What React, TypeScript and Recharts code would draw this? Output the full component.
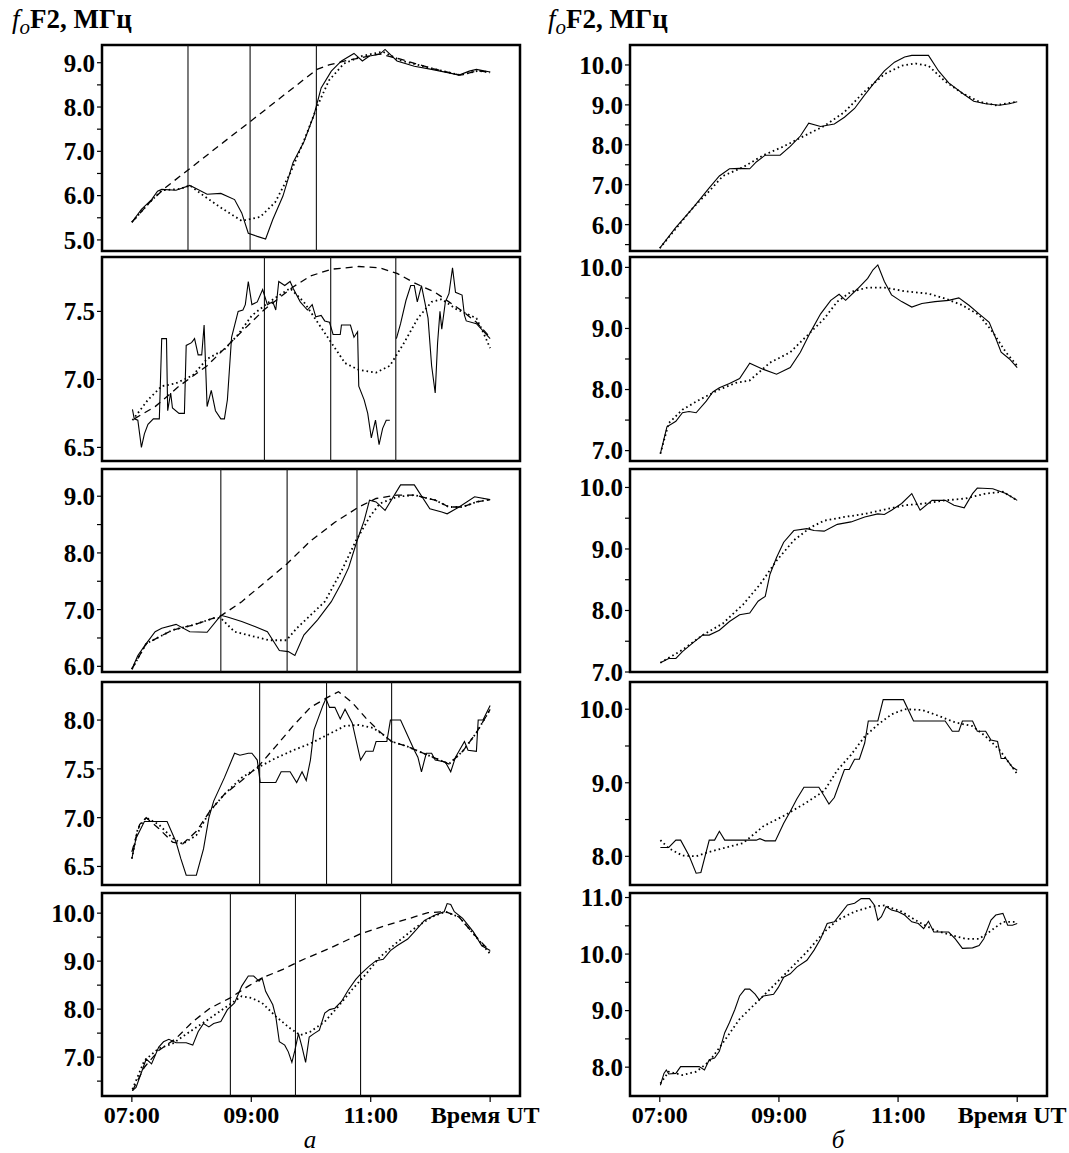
import React from 'react';
import { LineChart, Line, XAxis, YAxis, ReferenceLine, ReferenceArea } from 'recharts';

type Pt = [number, number | null];

// time axis, hours UT
const timeTicks = [7, 9, 11, 13];
const timeLabels = ['07:00', '09:00', '11:00', 'Время UT'];

// ---- column "а" ----
const a1Obs: Pt[] = [[7.0,5.40],[7.16,5.69],[7.33,5.91],[7.43,6.10],[7.5,6.14],[7.74,6.12],[7.97,6.23],[8.05,6.18],[8.26,6.03],[8.49,6.05],[8.72,5.91],[8.84,5.61],[8.95,5.15],[9.10,5.08],[9.24,5.02],[9.36,5.46],[9.53,5.99],[9.70,6.75],[9.88,7.21],[10.05,7.82],[10.17,8.43],[10.34,8.81],[10.51,9.04],[10.72,9.21],[10.86,9.04],[10.98,9.15],[11.15,9.19],[11.24,9.30],[11.44,9.04],[11.73,8.92],[12.02,8.85],[12.31,8.77],[12.48,8.72],[12.65,8.81],[12.77,8.85],[13.0,8.79]];
const a1Fit: Pt[] = [[7.0,5.40],[7.3,5.85],[7.5,6.12],[7.8,6.15],[7.97,6.23],[8.2,6.0],[8.5,5.72],[8.84,5.43],[9.15,5.52],[9.4,5.85],[9.65,6.5],[9.9,7.3],[10.1,8.0],[10.3,8.6],[10.55,8.98],[10.85,9.15],[11.2,9.25],[11.5,9.05],[12.0,8.88],[12.5,8.72],[12.8,8.82],[13.0,8.78]];
const a1Model: Pt[] = [[7.0,5.40],[7.3,5.85],[7.56,6.18],[8.0,6.64],[8.5,7.17],[9.0,7.69],[9.5,8.22],[10.1,8.85],[10.3,8.95],[10.57,9.04],[10.86,9.12],[11.15,9.2],[11.5,9.08],[12.0,8.88],[12.5,8.72],[12.8,8.82],[13.0,8.78]];
const a1Events = [7.94, 8.98, 10.09];

const a2Obs: Pt[] = [[7.01,6.78],[7.04,6.71],[7.10,6.70],[7.16,6.50],[7.21,6.60],[7.27,6.67],[7.36,6.71],[7.46,6.71],[7.50,7.30],[7.58,7.30],[7.60,6.77],[7.65,6.90],[7.68,6.79],[7.79,6.75],[7.88,6.75],[7.91,7.25],[8.00,7.27],[8.05,7.30],[8.11,7.18],[8.17,7.18],[8.21,7.40],[8.26,6.80],[8.33,6.92],[8.40,6.77],[8.49,6.71],[8.55,6.71],[8.60,6.85],[8.67,7.31],[8.78,7.50],[8.86,7.51],[8.90,7.55],[8.95,7.72],[9.01,7.55],[9.10,7.57],[9.19,7.66],[9.27,7.55],[9.36,7.57],[9.41,7.51],[9.46,7.72],[9.56,7.69],[9.65,7.72],[9.70,7.67],[9.82,7.57],[9.94,7.51],[10.02,7.55],[10.08,7.46],[10.17,7.47],[10.23,7.43],[10.31,7.42],[10.37,7.33],[10.49,7.33],[10.51,7.40],[10.66,7.40],[10.72,7.31],[10.78,7.35],[10.80,6.95],[10.89,6.85],[10.95,6.75],[11.01,6.57],[11.08,6.70],[11.14,6.52],[11.20,6.64],[11.26,6.70],[11.32,6.70],[11.38,null],[11.43,7.30],[11.50,7.41],[11.59,7.58],[11.67,7.69],[11.73,7.69],[11.78,7.57],[11.85,7.69],[11.96,7.45],[12.02,7.10],[12.08,6.90],[12.12,7.27],[12.16,7.50],[12.19,7.37],[12.25,7.57],[12.31,7.63],[12.37,7.82],[12.42,7.64],[12.53,7.62],[12.57,7.47],[12.60,7.43],[12.77,7.41],[13.0,7.30]];
const a2Fit: Pt[] = [[7.01,6.70],[7.27,6.85],[7.50,6.95],[7.73,6.97],[8.02,7.03],[8.26,7.15],[8.55,7.22],[8.78,7.33],[9.01,7.47],[9.30,7.57],[9.65,7.67],[9.88,7.57],[10.11,7.42],[10.34,7.27],[10.57,7.12],[10.80,7.07],[11.09,7.05],[11.32,7.10],[11.56,7.27],[11.79,7.45],[12.02,7.57],[12.19,7.59],[12.42,7.52],[12.77,7.45],[12.88,7.35],[13.0,7.23]];
const a2Model: Pt[] = [[7.04,6.71],[7.39,6.80],[7.79,6.95],[8.26,7.10],[8.72,7.30],[9.21,7.51],[9.70,7.68],[9.99,7.76],[10.34,7.81],[10.80,7.83],[11.15,7.82],[11.44,7.78],[11.73,7.71],[12.08,7.64],[12.31,7.57],[12.54,7.50],[12.77,7.42],[13.0,7.31]];
const a2Events = [9.22, 10.33, 11.42];

const a3Obs: Pt[] = [[7.0,5.95],[7.10,6.19],[7.24,6.40],[7.39,6.61],[7.50,6.67],[7.74,6.74],[7.97,6.61],[8.26,6.60],[8.49,6.90],[8.60,6.87],[8.84,6.79],[9.07,6.70],[9.27,6.61],[9.47,6.28],[9.62,6.26],[9.73,6.19],[9.88,6.55],[10.11,6.82],[10.34,7.14],[10.51,7.47],[10.63,7.74],[10.77,8.21],[10.89,8.57],[10.98,8.93],[11.09,8.90],[11.24,8.75],[11.50,9.20],[11.73,9.20],[11.99,8.78],[12.19,8.72],[12.28,8.69],[12.48,8.81],[12.74,8.99],[13.0,8.94]];
const a3Fit: Pt[] = [[7.0,5.95],[7.24,6.40],[7.68,6.64],[8.03,6.73],[8.37,6.85],[8.49,6.85],[8.72,6.61],[8.95,6.55],[9.30,6.46],[9.59,6.46],[9.76,6.67],[9.94,6.85],[10.23,7.14],[10.51,7.68],[10.75,8.21],[10.98,8.63],[11.15,8.87],[11.44,8.99],[11.73,9.02],[12.08,8.93],[12.31,8.81],[12.54,8.81],[12.77,8.90],[13.0,8.94]];
const a3Model: Pt[] = [[7.0,5.95],[7.24,6.40],[7.68,6.64],[8.03,6.73],[8.37,6.85],[8.49,6.89],[8.84,7.14],[9.18,7.44],[9.59,7.80],[9.99,8.21],[10.40,8.54],[10.80,8.81],[11.09,8.96],[11.44,9.02],[11.73,9.02],[12.08,8.93],[12.31,8.81],[12.54,8.81],[12.77,8.90],[13.0,8.94]];
const a3Events = [8.49, 9.60, 10.77];

const a4Obs: Pt[] = [[7.0,6.58],[7.07,6.79],[7.21,6.96],[7.27,6.96],[7.59,6.96],[7.74,6.75],[7.82,6.58],[7.91,6.41],[8.08,6.41],[8.20,6.68],[8.29,7.0],[8.37,7.17],[8.55,7.41],[8.72,7.66],[8.81,7.64],[8.95,7.66],[9.01,7.66],[9.10,7.59],[9.15,7.36],[9.41,7.36],[9.50,7.47],[9.65,7.47],[9.76,7.36],[9.85,7.47],[9.92,7.38],[9.99,7.59],[10.05,7.90],[10.20,8.15],[10.25,8.22],[10.31,8.13],[10.40,8.13],[10.49,8.01],[10.57,8.11],[10.69,7.97],[10.83,7.59],[10.92,7.68],[11.04,7.68],[11.09,7.78],[11.27,7.78],[11.33,8.0],[11.50,8.0],[11.73,7.69],[11.79,7.62],[11.85,7.47],[11.93,7.66],[12.02,7.66],[12.08,7.59],[12.25,7.57],[12.34,7.47],[12.42,7.62],[12.57,7.78],[12.63,7.69],[12.77,7.68],[12.80,8.0],[12.88,8.0],[13.0,8.15]];
const a4Fit: Pt[] = [[7.0,6.58],[7.10,6.89],[7.24,7.0],[7.45,6.93],[7.68,6.79],[7.85,6.73],[8.08,6.82],[8.31,7.07],[8.55,7.24],[8.84,7.41],[9.13,7.52],[9.41,7.61],[9.70,7.69],[9.99,7.76],[10.28,7.85],[10.57,7.94],[10.80,7.95],[11.04,7.92],[11.21,7.85],[11.35,7.78],[11.61,7.73],[11.96,7.64],[12.31,7.55],[12.54,7.68],[12.77,7.87],[13.0,8.11]];
const a4Model: Pt[] = [[7.0,6.65],[7.13,6.93],[7.24,7.0],[7.45,6.89],[7.68,6.75],[7.85,6.73],[8.08,6.86],[8.31,7.07],[8.55,7.24],[8.84,7.38],[9.14,7.54],[9.41,7.73],[9.70,7.94],[9.99,8.13],[10.27,8.23],[10.46,8.29],[10.69,8.18],[10.92,8.02],[11.15,7.88],[11.35,7.78],[11.61,7.73],[11.96,7.64],[12.31,7.55],[12.54,7.68],[12.77,7.87],[13.0,8.11]];
const a4Events = [9.14, 10.26, 11.35];

const a5Obs: Pt[] = [[7.01,6.30],[7.07,6.37],[7.16,6.68],[7.24,6.96],[7.33,6.86],[7.45,7.21],[7.53,7.32],[7.62,7.37],[7.74,7.30],[7.91,7.30],[8.02,7.25],[8.11,7.53],[8.20,7.70],[8.29,7.63],[8.37,7.70],[8.49,7.74],[8.60,7.99],[8.72,8.13],[8.84,8.48],[8.95,8.69],[9.04,8.69],[9.13,8.58],[9.18,8.65],[9.24,8.37],[9.36,8.09],[9.41,7.85],[9.47,7.32],[9.56,7.25],[9.62,7.11],[9.68,6.89],[9.73,7.14],[9.79,7.49],[9.85,7.21],[9.91,6.89],[9.97,7.42],[10.05,7.49],[10.14,7.56],[10.23,7.92],[10.31,7.99],[10.40,8.02],[10.51,8.16],[10.63,8.41],[10.75,8.62],[10.83,8.73],[10.98,8.90],[11.09,9.01],[11.21,9.04],[11.33,9.22],[11.44,9.32],[11.62,9.46],[11.73,9.61],[11.90,9.85],[12.08,9.96],[12.23,10.03],[12.28,10.20],[12.34,10.18],[12.40,10.03],[12.54,9.89],[12.72,9.61],[12.86,9.32],[13.0,9.22]];
const a5Fit: Pt[] = [[7.01,6.33],[7.21,6.93],[7.45,7.18],[7.68,7.28],[7.97,7.53],[8.26,7.77],[8.55,8.02],[8.84,8.27],[9.01,8.23],[9.18,8.13],[9.41,7.85],[9.65,7.60],[9.82,7.46],[9.99,7.53],[10.23,7.74],[10.46,8.06],[10.69,8.41],[10.92,8.73],[11.15,9.08],[11.44,9.39],[11.73,9.68],[12.02,9.92],[12.25,10.03],[12.48,9.92],[12.72,9.57],[13.0,9.15]];
const a5Model: Pt[] = [[7.01,6.30],[7.21,6.79],[7.45,7.14],[7.74,7.39],[8.02,7.74],[8.31,8.02],[8.64,8.23],[8.95,8.48],[9.18,8.65],[9.53,8.83],[9.88,9.04],[10.28,9.25],[10.83,9.57],[11.27,9.75],[11.73,9.92],[11.96,10.01],[12.25,10.03],[12.48,9.92],[12.72,9.57],[13.0,9.2]];
const a5Events = [8.65, 9.74, 10.83];

// ---- column "б" ----
const b1Obs: Pt[] = [[7.0,5.41],[7.27,5.93],[7.55,6.41],[7.83,6.92],[8.0,7.22],[8.17,7.40],[8.34,7.41],[8.51,7.40],[8.62,7.57],[8.77,7.74],[9.02,7.74],[9.19,7.96],[9.36,8.22],[9.50,8.54],[9.70,8.46],[9.93,8.52],[10.10,8.69],[10.27,8.91],[10.44,9.25],[10.60,9.55],[10.77,9.85],[10.94,10.07],[11.11,10.20],[11.23,10.24],[11.51,10.24],[11.68,9.85],[11.85,9.55],[12.08,9.29],[12.27,9.09],[12.47,9.03],[12.70,8.99],[12.87,9.03],[13.0,9.08]];
const b1Fit: Pt[] = [[7.0,5.41],[7.55,6.41],[7.83,6.84],[8.06,7.22],[8.40,7.44],[8.74,7.74],[9.08,7.96],[9.42,8.22],[9.76,8.47],[10.10,8.82],[10.44,9.34],[10.77,9.77],[11.06,9.98],[11.28,10.04],[11.51,9.98],[11.79,9.59],[12.08,9.29],[12.36,9.08],[12.64,8.99],[13.0,9.08]];

const b2Obs: Pt[] = [[7.01,6.95],[7.12,7.39],[7.27,7.48],[7.38,7.62],[7.49,7.64],[7.61,7.62],[7.78,7.81],[7.89,7.96],[8.0,8.03],[8.17,8.10],[8.34,8.18],[8.51,8.43],[8.74,8.33],[8.96,8.25],[9.19,8.36],[9.36,8.61],[9.53,8.94],[9.70,9.24],[9.87,9.46],[10.01,9.56],[10.12,9.46],[10.32,9.65],[10.49,9.82],[10.58,9.96],[10.66,10.04],[10.77,9.77],[10.89,9.55],[11.06,9.44],[11.23,9.35],[11.40,9.41],[11.62,9.44],[11.85,9.46],[12.02,9.50],[12.19,9.38],[12.36,9.24],[12.53,9.10],[12.64,8.84],[12.73,8.61],[12.87,8.50],[13.0,8.36]];
const b2Fit: Pt[] = [[7.01,6.95],[7.15,7.45],[7.38,7.67],[7.66,7.83],[8.0,8.0],[8.28,8.11],[8.51,8.15],[8.85,8.44],[9.19,8.61],[9.47,8.88],[9.76,9.16],[9.98,9.44],[10.21,9.60],[10.49,9.67],[10.77,9.67],[11.11,9.61],[11.51,9.57],[11.79,9.49],[12.08,9.38],[12.36,9.22],[12.59,8.94],[12.81,8.61],[13.0,8.39]];

const b3Obs: Pt[] = [[7.01,7.15],[7.15,7.22],[7.27,7.22],[7.38,7.33],[7.55,7.47],[7.72,7.60],[7.83,7.60],[8.0,7.68],[8.17,7.82],[8.34,7.93],[8.51,7.96],[8.65,8.15],[8.77,8.23],[8.85,8.59],[8.96,8.86],[9.08,9.11],[9.25,9.30],[9.47,9.33],[9.59,9.30],[9.76,9.29],[9.98,9.40],[10.21,9.44],[10.44,9.52],[10.66,9.57],[10.77,9.56],[10.89,9.63],[11.06,9.74],[11.23,9.90],[11.37,9.63],[11.57,9.79],[11.79,9.79],[11.94,9.71],[12.11,9.67],[12.25,9.90],[12.33,9.99],[12.59,9.98],[12.81,9.90],[13.0,9.79]];
const b3Fit: Pt[] = [[7.01,7.15],[7.38,7.36],[7.72,7.60],[8.06,7.79],[8.40,8.10],[8.68,8.42],[8.96,8.81],[9.25,9.14],[9.53,9.35],[9.76,9.46],[10.10,9.52],[10.44,9.57],[10.77,9.64],[11.11,9.71],[11.45,9.74],[11.79,9.79],[12.13,9.82],[12.47,9.90],[12.76,9.93],[13.0,9.79]];

const b4Obs: Pt[] = [[7.01,8.12],[7.15,8.12],[7.27,8.22],[7.35,8.22],[7.49,8.01],[7.61,7.77],[7.69,7.78],[7.83,8.22],[7.92,8.22],[8.0,8.34],[8.09,8.22],[8.62,8.22],[8.68,8.24],[8.77,8.21],[8.94,8.21],[9.08,8.45],[9.19,8.61],[9.30,8.78],[9.42,8.94],[9.67,8.94],[9.76,8.82],[9.84,8.71],[9.93,8.80],[10.01,8.98],[10.10,9.18],[10.18,9.18],[10.27,9.32],[10.35,9.32],[10.44,9.54],[10.50,9.84],[10.66,9.84],[10.75,10.13],[11.09,10.13],[11.26,9.84],[11.79,9.84],[11.91,9.70],[12.02,9.70],[12.08,9.84],[12.25,9.84],[12.33,9.70],[12.47,9.70],[12.56,9.58],[12.67,9.56],[12.73,9.33],[12.81,9.33],[12.92,9.21],[13.0,9.17]];
const b4Fit: Pt[] = [[7.01,8.22],[7.15,8.11],[7.38,8.01],[7.61,8.0],[7.83,8.06],[8.11,8.12],[8.40,8.18],[8.74,8.41],[9.08,8.55],[9.42,8.71],[9.76,8.89],[9.98,9.17],[10.21,9.38],[10.44,9.63],[10.66,9.79],[10.89,9.93],[11.11,10.0],[11.40,9.99],[11.68,9.91],[11.96,9.82],[12.25,9.77],[12.47,9.63],[12.70,9.45],[13.0,9.12]];

const b5Obs: Pt[] = [[7.01,7.68],[7.07,7.89],[7.11,7.95],[7.15,7.88],[7.27,7.89],[7.35,8.01],[7.66,8.01],[7.75,7.95],[7.83,8.13],[7.92,8.16],[8.0,8.28],[8.09,8.61],[8.17,8.79],[8.26,9.02],[8.34,9.26],[8.43,9.38],[8.51,9.38],[8.60,9.29],[8.67,9.19],[8.74,9.26],[8.91,9.29],[8.99,9.41],[9.08,9.59],[9.19,9.65],[9.30,9.77],[9.47,9.89],[9.59,10.07],[9.70,10.27],[9.81,10.54],[9.93,10.57],[10.04,10.72],[10.15,10.87],[10.27,10.90],[10.38,10.98],[10.52,10.98],[10.60,10.87],[10.66,10.60],[10.72,10.66],[10.80,10.84],[10.89,10.78],[11.0,10.75],[11.11,10.69],[11.23,10.57],[11.34,10.54],[11.43,10.45],[11.51,10.58],[11.60,10.39],[11.85,10.39],[11.96,10.27],[12.08,10.10],[12.25,10.11],[12.36,10.15],[12.44,10.27],[12.56,10.60],[12.64,10.69],[12.76,10.72],[12.84,10.51],[12.92,10.51],[13.0,10.54]];
const b5Fit: Pt[] = [[7.01,7.71],[7.15,7.92],[7.38,7.86],[7.61,7.92],[7.83,8.10],[8.06,8.43],[8.34,8.85],[8.62,9.14],[8.91,9.44],[9.19,9.74],[9.47,10.04],[9.76,10.39],[9.98,10.60],[10.27,10.75],[10.55,10.84],[10.77,10.86],[11.06,10.75],[11.34,10.57],[11.62,10.42],[11.91,10.33],[12.13,10.27],[12.36,10.27],[12.53,10.39],[12.76,10.57],[13.0,10.57]];

// y ticks per panel: all tick marks and the labelled ones
const a1Ticks = [5, 5.5, 6, 6.5, 7, 7.5, 8, 8.5, 9];
const a1Labels = [5, 6, 7, 8, 9];
const a2Ticks = [6.5, 7, 7.5];
const a2Labels = [6.5, 7, 7.5];
const a3Ticks = [6, 6.5, 7, 7.5, 8, 8.5, 9];
const a3Labels = [6, 7, 8, 9];
const a4Ticks = [6.5, 7, 7.5, 8];
const a4Labels = [6.5, 7, 7.5, 8];
const a5Ticks = [6.5, 7, 7.5, 8, 8.5, 9, 9.5, 10];
const a5Labels = [7, 8, 9, 10];
const b1Ticks = [5.5, 6, 6.5, 7, 7.5, 8, 8.5, 9, 9.5, 10];
const b1Labels = [6, 7, 8, 9, 10];
const b2Ticks = [7, 7.5, 8, 8.5, 9, 9.5, 10];
const b2Labels = [7, 8, 9, 10];
const b3Ticks = [7, 7.5, 8, 8.5, 9, 9.5, 10];
const b3Labels = [7, 8, 9, 10];
const b4Ticks = [8, 8.5, 9, 9.5, 10];
const b4Labels = [8, 9, 10];
const b5Ticks = [8, 8.5, 9, 9.5, 10, 10.5, 11];
const b5Labels = [8, 9, 10, 11];

const toRows = (pts: Pt[]) => pts.map(([t, v]) => ({ t, v }));

const FONT = '"Liberation Serif", "DejaVu Serif", serif';
const X_DOMAIN: [number, number] = [6.5, 13.5];
const YW = 70;
const MT = 14;

const rows = [
  { top: 45, h: 206 },
  { top: 257, h: 204 },
  { top: 469, h: 203 },
  { top: 682, h: 203 },
  { top: 893, h: 203 },
];
const cols = [
  { left: 102, w: 418 },
  { left: 630, w: 417 },
];

function TimeTick(props: any) {
  const { x, y, payload } = props;
  const i = timeTicks.indexOf(payload.value);
  const dx = i === timeTicks.length - 1 ? -5 : 0;
  return (
    <text x={x + dx} y={y} dy="0.71em" textAnchor="middle" fill="#000" fontSize={24} fontWeight={700} fontFamily={FONT}>
      {timeLabels[i]}
    </text>
  );
}

interface PanelProps {
  col: number;
  row: number;
  domain: [number, number];
  ticks: number[];
  labels: number[];
  obs: Pt[];
  fit: Pt[];
  model?: Pt[];
  events?: number[];
}

function Panel({ col, row, domain, ticks, labels, obs, fit, model, events = [] }: PanelProps) {
  const { left, w } = cols[col];
  const { top, h } = rows[row];
  const bottom = row === rows.length - 1;
  const xh = bottom ? 40 : 16;
  const mr = bottom ? 20 : 6;
  const tickStyle = { fill: '#000', fontSize: 25, fontWeight: 700, fontFamily: FONT };
  return (
    <div style={{ position: 'absolute', left: left - YW, top: top - MT }}>
      <LineChart
        width={YW + w + mr}
        height={MT + h + xh}
        margin={{ top: MT, right: mr, bottom: 0, left: 0 }}
      >
        <XAxis
          type="number"
          dataKey="t"
          domain={X_DOMAIN}
          allowDataOverflow
          ticks={timeTicks}
          interval={0}
          height={xh}
          axisLine={false}
          tickLine={{ stroke: '#000', strokeWidth: 1.2 }}
          tickSize={6}
          tickMargin={4}
          tick={bottom ? <TimeTick /> : false}
        />
        <YAxis
          type="number"
          dataKey="v"
          domain={domain}
          allowDataOverflow
          ticks={ticks}
          interval={0}
          width={YW}
          axisLine={false}
          tickLine={{ stroke: '#000', strokeWidth: 1.2 }}
          tickSize={5}
          tickMargin={2}
          tick={tickStyle}
          tickFormatter={(v: number) => (labels.includes(v) ? v.toFixed(1) : '')}
        />
        {events.map((e) => (
          <ReferenceLine key={e} x={e} stroke="#111" strokeWidth={1.1} />
        ))}
        {model && (
          <Line
            data={toRows(model)}
            dataKey="v"
            type="linear"
            stroke="#000"
            strokeWidth={1.3}
            strokeDasharray="7 5"
            dot={false}
            isAnimationActive={false}
          />
        )}
        <Line
          data={toRows(fit)}
          dataKey="v"
          type="linear"
          stroke="#000"
          strokeWidth={1.8}
          strokeDasharray="1.6 3"
          dot={false}
          isAnimationActive={false}
        />
        <Line
          data={toRows(obs)}
          dataKey="v"
          type="linear"
          stroke="#000"
          strokeWidth={1.1}
          dot={false}
          isAnimationActive={false}
        />
        <ReferenceArea
          x1={X_DOMAIN[0]}
          x2={X_DOMAIN[1]}
          y1={domain[0]}
          y2={domain[1]}
          fill="none"
          stroke="#000"
          strokeWidth={2.5}
        />
      </LineChart>
    </div>
  );
}

function Title({ left }: { left: number }) {
  return (
    <div style={{ position: 'absolute', left, top: 4, fontFamily: FONT, fontSize: 27, lineHeight: '30px', color: '#000', whiteSpace: 'nowrap' }}>
      <span style={{ fontStyle: 'italic' }}>f</span>
      <span style={{ fontStyle: 'italic', fontSize: 21, position: 'relative', top: 6 }}>o</span>
      <span style={{ fontWeight: 700 }}>F2, МГц</span>
    </div>
  );
}

export default function App() {
  return (
    <div style={{ position: 'absolute', left: 0, top: 0, width: 1069, height: 1153, background: '#fff', fontFamily: FONT }}>
      <Title left={12} />
      <Title left={548} />

      <Panel col={0} row={0} domain={[4.75, 9.4]} ticks={a1Ticks} labels={a1Labels} obs={a1Obs} fit={a1Fit} model={a1Model} events={a1Events} />
      <Panel col={0} row={1} domain={[6.4, 7.9]} ticks={a2Ticks} labels={a2Labels} obs={a2Obs} fit={a2Fit} model={a2Model} events={a2Events} />
      <Panel col={0} row={2} domain={[5.9, 9.48]} ticks={a3Ticks} labels={a3Labels} obs={a3Obs} fit={a3Fit} model={a3Model} events={a3Events} />
      <Panel col={0} row={3} domain={[6.31, 8.39]} ticks={a4Ticks} labels={a4Labels} obs={a4Obs} fit={a4Fit} model={a4Model} events={a4Events} />
      <Panel col={0} row={4} domain={[6.19, 10.42]} ticks={a5Ticks} labels={a5Labels} obs={a5Obs} fit={a5Fit} model={a5Model} events={a5Events} />

      <Panel col={1} row={0} domain={[5.34, 10.5]} ticks={b1Ticks} labels={b1Labels} obs={b1Obs} fit={b1Fit} />
      <Panel col={1} row={1} domain={[6.83, 10.17]} ticks={b2Ticks} labels={b2Labels} obs={b2Obs} fit={b2Fit} />
      <Panel col={1} row={2} domain={[7.0, 10.3]} ticks={b3Ticks} labels={b3Labels} obs={b3Obs} fit={b3Fit} />
      <Panel col={1} row={3} domain={[7.61, 10.37]} ticks={b4Ticks} labels={b4Labels} obs={b4Obs} fit={b4Fit} />
      <Panel col={1} row={4} domain={[7.49, 11.08]} ticks={b5Ticks} labels={b5Labels} obs={b5Obs} fit={b5Fit} />

      <div style={{ position: 'absolute', left: 300, top: 1126, width: 20, textAlign: 'center', fontStyle: 'italic', fontSize: 25, lineHeight: '28px' }}>а</div>
      <div style={{ position: 'absolute', left: 828, top: 1126, width: 20, textAlign: 'center', fontStyle: 'italic', fontSize: 25, lineHeight: '28px' }}>б</div>
    </div>
  );
}
